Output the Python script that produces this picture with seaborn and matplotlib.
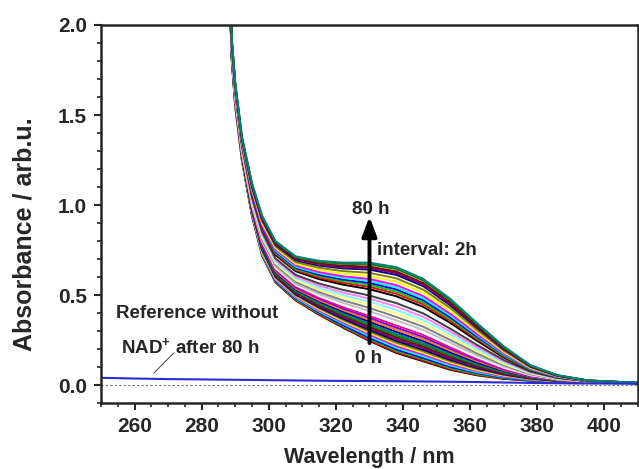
import numpy as np
import pandas as pd
import seaborn as sns
import matplotlib
matplotlib.use('Agg')
import matplotlib.pyplot as plt
from matplotlib.ticker import MultipleLocator, FormatStrFormatter

## Longitudes de onda (nm) en las que se leyeron los espectros
wavelength = [288, 289, 290, 292, 295, 298, 302, 308, 315, 322,
              330, 338, 346, 354, 362, 370, 378, 386, 395, 410]

## Espectros sucesivos (absorbancia), de abajo hacia arriba
s00 = [2.35, 1.80, 1.55, 1.25, 0.94, 0.72, 0.570, 0.470, 0.390, 0.320, 0.245, 0.178, 0.132, 0.085, 0.054, 0.034, 0.024, 0.018, 0.014, 0.010]
s01 = [2.35, 1.80, 1.55, 1.25, 0.94, 0.72, 0.572, 0.472, 0.393, 0.324, 0.249, 0.183, 0.137, 0.089, 0.057, 0.036, 0.025, 0.018, 0.014, 0.010]
s02 = [2.35, 1.80, 1.55, 1.25, 0.94, 0.73, 0.576, 0.476, 0.398, 0.329, 0.256, 0.190, 0.144, 0.095, 0.061, 0.039, 0.026, 0.019, 0.014, 0.010]
s03 = [2.36, 1.80, 1.56, 1.26, 0.95, 0.73, 0.579, 0.480, 0.402, 0.334, 0.262, 0.197, 0.150, 0.101, 0.066, 0.041, 0.027, 0.019, 0.014, 0.010]
s04 = [2.36, 1.81, 1.56, 1.26, 0.95, 0.73, 0.584, 0.485, 0.408, 0.342, 0.271, 0.207, 0.159, 0.109, 0.071, 0.045, 0.029, 0.020, 0.015, 0.010]
s05 = [2.36, 1.81, 1.56, 1.26, 0.95, 0.74, 0.588, 0.490, 0.414, 0.349, 0.280, 0.216, 0.169, 0.117, 0.077, 0.048, 0.031, 0.021, 0.015, 0.010]
s06 = [2.37, 1.81, 1.56, 1.26, 0.96, 0.74, 0.593, 0.495, 0.420, 0.356, 0.289, 0.226, 0.178, 0.125, 0.083, 0.052, 0.033, 0.022, 0.015, 0.010]
s07 = [2.37, 1.81, 1.57, 1.27, 0.96, 0.75, 0.598, 0.499, 0.426, 0.363, 0.297, 0.235, 0.187, 0.132, 0.089, 0.056, 0.034, 0.022, 0.015, 0.010]
s08 = [2.37, 1.82, 1.57, 1.27, 0.97, 0.75, 0.602, 0.504, 0.432, 0.370, 0.306, 0.245, 0.196, 0.140, 0.095, 0.059, 0.036, 0.023, 0.016, 0.010]
s09 = [2.37, 1.82, 1.57, 1.27, 0.97, 0.76, 0.607, 0.509, 0.438, 0.378, 0.315, 0.254, 0.205, 0.148, 0.101, 0.063, 0.038, 0.024, 0.016, 0.010]
s10 = [2.38, 1.82, 1.57, 1.27, 0.97, 0.76, 0.611, 0.514, 0.444, 0.385, 0.323, 0.264, 0.214, 0.156, 0.106, 0.067, 0.040, 0.025, 0.016, 0.010]
s11 = [2.38, 1.82, 1.58, 1.28, 0.98, 0.76, 0.616, 0.519, 0.450, 0.392, 0.332, 0.273, 0.224, 0.164, 0.112, 0.070, 0.041, 0.025, 0.016, 0.010]
s12 = [2.38, 1.83, 1.58, 1.28, 0.98, 0.77, 0.621, 0.524, 0.456, 0.399, 0.341, 0.283, 0.233, 0.172, 0.118, 0.074, 0.043, 0.026, 0.017, 0.010]
s13 = [2.39, 1.83, 1.58, 1.28, 0.98, 0.77, 0.626, 0.530, 0.464, 0.408, 0.352, 0.295, 0.244, 0.182, 0.125, 0.078, 0.045, 0.027, 0.017, 0.010]
s14 = [2.39, 1.83, 1.59, 1.29, 0.99, 0.78, 0.632, 0.536, 0.471, 0.417, 0.362, 0.307, 0.256, 0.192, 0.133, 0.083, 0.047, 0.028, 0.017, 0.011]
s15 = [2.39, 1.84, 1.59, 1.29, 0.99, 0.78, 0.638, 0.542, 0.479, 0.426, 0.373, 0.319, 0.267, 0.202, 0.140, 0.087, 0.049, 0.029, 0.018, 0.011]
s16 = [2.40, 1.84, 1.59, 1.29, 1.00, 0.79, 0.644, 0.548, 0.486, 0.435, 0.384, 0.331, 0.279, 0.211, 0.147, 0.092, 0.052, 0.030, 0.018, 0.011]
s17 = [2.40, 1.84, 1.59, 1.29, 1.00, 0.80, 0.649, 0.555, 0.494, 0.444, 0.395, 0.343, 0.290, 0.221, 0.154, 0.096, 0.054, 0.031, 0.018, 0.011]
s18 = [2.41, 1.85, 1.60, 1.30, 1.01, 0.80, 0.657, 0.563, 0.504, 0.457, 0.410, 0.359, 0.306, 0.235, 0.165, 0.103, 0.057, 0.032, 0.019, 0.011]
s19 = [2.41, 1.85, 1.60, 1.30, 1.02, 0.81, 0.667, 0.573, 0.516, 0.471, 0.428, 0.378, 0.324, 0.251, 0.176, 0.110, 0.060, 0.034, 0.019, 0.011]
s20 = [2.42, 1.86, 1.61, 1.31, 1.02, 0.82, 0.676, 0.583, 0.528, 0.486, 0.445, 0.397, 0.343, 0.267, 0.188, 0.117, 0.064, 0.035, 0.020, 0.011]
s21 = [2.43, 1.86, 1.62, 1.32, 1.03, 0.83, 0.685, 0.593, 0.540, 0.500, 0.463, 0.417, 0.361, 0.283, 0.200, 0.125, 0.067, 0.037, 0.020, 0.011]
s22 = [2.43, 1.86, 1.62, 1.32, 1.04, 0.84, 0.694, 0.602, 0.552, 0.514, 0.480, 0.436, 0.379, 0.298, 0.211, 0.132, 0.070, 0.038, 0.021, 0.011]
s23 = [2.44, 1.87, 1.63, 1.33, 1.04, 0.85, 0.703, 0.612, 0.564, 0.529, 0.497, 0.455, 0.398, 0.314, 0.223, 0.139, 0.074, 0.039, 0.021, 0.011]
s24 = [2.45, 1.88, 1.64, 1.34, 1.06, 0.87, 0.722, 0.632, 0.588, 0.558, 0.532, 0.493, 0.434, 0.346, 0.246, 0.153, 0.081, 0.042, 0.022, 0.011]
s25 = [2.45, 1.88, 1.64, 1.34, 1.06, 0.87, 0.729, 0.639, 0.597, 0.568, 0.545, 0.507, 0.448, 0.358, 0.255, 0.159, 0.083, 0.044, 0.022, 0.011]
s26 = [2.46, 1.89, 1.64, 1.34, 1.07, 0.88, 0.734, 0.645, 0.605, 0.577, 0.556, 0.519, 0.459, 0.367, 0.262, 0.163, 0.085, 0.044, 0.023, 0.011]
s27 = [2.46, 1.89, 1.65, 1.35, 1.07, 0.88, 0.740, 0.651, 0.612, 0.586, 0.567, 0.531, 0.471, 0.377, 0.269, 0.168, 0.088, 0.045, 0.023, 0.011]
s28 = [2.46, 1.89, 1.65, 1.35, 1.08, 0.89, 0.746, 0.657, 0.620, 0.595, 0.578, 0.543, 0.482, 0.387, 0.277, 0.172, 0.090, 0.046, 0.023, 0.012]
s29 = [2.47, 1.89, 1.65, 1.35, 1.08, 0.89, 0.752, 0.664, 0.627, 0.604, 0.589, 0.555, 0.494, 0.397, 0.284, 0.177, 0.092, 0.047, 0.024, 0.012]
s30 = [2.47, 1.90, 1.66, 1.36, 1.09, 0.90, 0.761, 0.673, 0.639, 0.619, 0.606, 0.574, 0.512, 0.413, 0.296, 0.184, 0.095, 0.049, 0.024, 0.012]
s31 = [2.48, 1.90, 1.66, 1.36, 1.10, 0.91, 0.770, 0.683, 0.651, 0.633, 0.623, 0.593, 0.530, 0.429, 0.307, 0.191, 0.099, 0.050, 0.024, 0.012]
s32 = [2.49, 1.91, 1.67, 1.37, 1.10, 0.92, 0.779, 0.693, 0.663, 0.648, 0.641, 0.612, 0.549, 0.444, 0.319, 0.199, 0.102, 0.052, 0.025, 0.012]
s33 = [2.49, 1.91, 1.67, 1.37, 1.11, 0.92, 0.784, 0.698, 0.669, 0.655, 0.650, 0.622, 0.558, 0.452, 0.325, 0.202, 0.104, 0.052, 0.025, 0.012]
s34 = [2.49, 1.91, 1.67, 1.37, 1.11, 0.93, 0.789, 0.703, 0.675, 0.662, 0.658, 0.631, 0.567, 0.460, 0.330, 0.206, 0.106, 0.053, 0.025, 0.012]
s35 = [2.50, 1.92, 1.68, 1.38, 1.12, 0.94, 0.795, 0.710, 0.684, 0.673, 0.671, 0.645, 0.581, 0.472, 0.339, 0.211, 0.108, 0.054, 0.026, 0.012]
s36 = [2.50, 1.92, 1.68, 1.38, 1.12, 0.94, 0.800, 0.715, 0.690, 0.680, 0.680, 0.655, 0.590, 0.480, 0.345, 0.215, 0.110, 0.055, 0.026, 0.012]

spectra = [s00, s01, s02, s03, s04, s05, s06, s07, s08, s09,
           s10, s11, s12, s13, s14, s15, s16, s17, s18, s19,
           s20, s21, s22, s23, s24, s25, s26, s27, s28, s29,
           s30, s31, s32, s33, s34, s35, s36]

## Referencia sin NAD+ despues de 80 h
ref_wl = [250, 260, 270, 280, 290, 300, 310, 320, 330, 340, 350, 360, 370, 380, 390, 400, 410]
ref_abs = [0.040, 0.036, 0.033, 0.031, 0.029, 0.027, 0.025, 0.023, 0.022, 0.021,
           0.019, 0.017, 0.014, 0.011, 0.009, 0.008, 0.007]

## Lista de colores por defecto de Origin
origin_colors = ['#000000', '#FF0000', '#00D000', '#0000FF', '#00FFFF', '#FF00FF',
                 '#FFFF00', '#808000', '#000080', '#800080', '#800000', '#008000',
                 '#008080', '#0000A0', '#FF8000', '#8000FF', '#FF0080', '#FFFFFF',
                 '#C0C0C0', '#808080', '#FFFF80', '#80FFFF', '#FF80FF', '#404040']
colores = [origin_colors[i % len(origin_colors)] for i in range(len(spectra))]

## Pasar a formato largo
filas = []
for i, espectro in enumerate(spectra):
    for w, a in zip(wavelength, espectro):
        filas.append((f'curva {i:02d}', w, a))
df = pd.DataFrame(filas, columns=['curva', 'wl', 'A'])

sns.set_style('ticks')
plt.rcParams['font.family'] = ['Liberation Sans', 'DejaVu Sans']
plt.rcParams['font.weight'] = 'bold'
plt.rcParams['mathtext.fontset'] = 'custom'
plt.rcParams['mathtext.rm'] = 'Liberation Sans:bold'
plt.rcParams['mathtext.bf'] = 'Liberation Sans:bold'

fig = plt.figure(figsize=(6.39, 4.69), dpi=100)
ax = fig.add_axes([0.158, 0.1407, 0.8404, 0.806])

# linea punteada en cero
ax.axhline(0, color='#777777', lw=0.8, ls=(0, (2, 2)), zorder=1)

sns.lineplot(data=df, x='wl', y='A', hue='curva', palette=colores, legend=False,
             estimator=None, sort=False, lw=1.4, ax=ax)
sns.lineplot(x=ref_wl, y=ref_abs, color='#2b2bd6', lw=1.5, estimator=None, ax=ax)

ax.set_xlim(250, 410)
ax.set_ylim(-0.1, 2.0)
ax.set_xticks(np.arange(260, 401, 20))
ax.xaxis.set_minor_locator(MultipleLocator(5))
ax.yaxis.set_major_locator(MultipleLocator(0.5))
ax.yaxis.set_minor_locator(MultipleLocator(0.1))
ax.yaxis.set_major_formatter(FormatStrFormatter('%.1f'))
ax.tick_params(which='major', direction='out', length=5, width=1.5, labelsize=15, pad=5)
ax.tick_params(which='minor', direction='out', length=3, width=1.2)
for sp in ax.spines.values():
    sp.set_linewidth(1.8)

ax.set_xlabel('Wavelength / nm', fontsize=15.5, fontweight='bold')
ax.set_ylabel('Absorbance / arb.u.', fontsize=18, fontweight='bold')
ax.xaxis.set_label_coords(0.5, -0.116)
ax.yaxis.set_label_coords(-0.12, 0.446)

# flecha y textos
ax.annotate('', xy=(330, 0.935), xytext=(330, 0.233),
            arrowprops=dict(arrowstyle='-|>,head_length=0.58,head_width=0.22',
                            lw=2.8, color='black', mutation_scale=20,
                            shrinkA=0, shrinkB=0))
ax.text(330.5, 0.975, '80 h', fontsize=13.5, fontweight='bold', ha='center', va='center')
ax.text(329.8, 0.15, '0 h', fontsize=13.5, fontweight='bold', ha='center', va='center')
ax.text(332.2, 0.75, 'interval: 2h', fontsize=13.5, fontweight='bold', ha='left', va='center')
ax.text(254.5, 0.40, 'Reference without', fontsize=13.5, fontweight='bold', ha='left', va='center')
ax.text(256, 0.205, r'NAD$^{+}$ after 80 h', fontsize=13.5, fontweight='bold', ha='left', va='center')
ax.plot([265.8, 271.7], [0.067, 0.178], color='#555555', lw=0.8)

plt.savefig('out.png', dpi=100)
